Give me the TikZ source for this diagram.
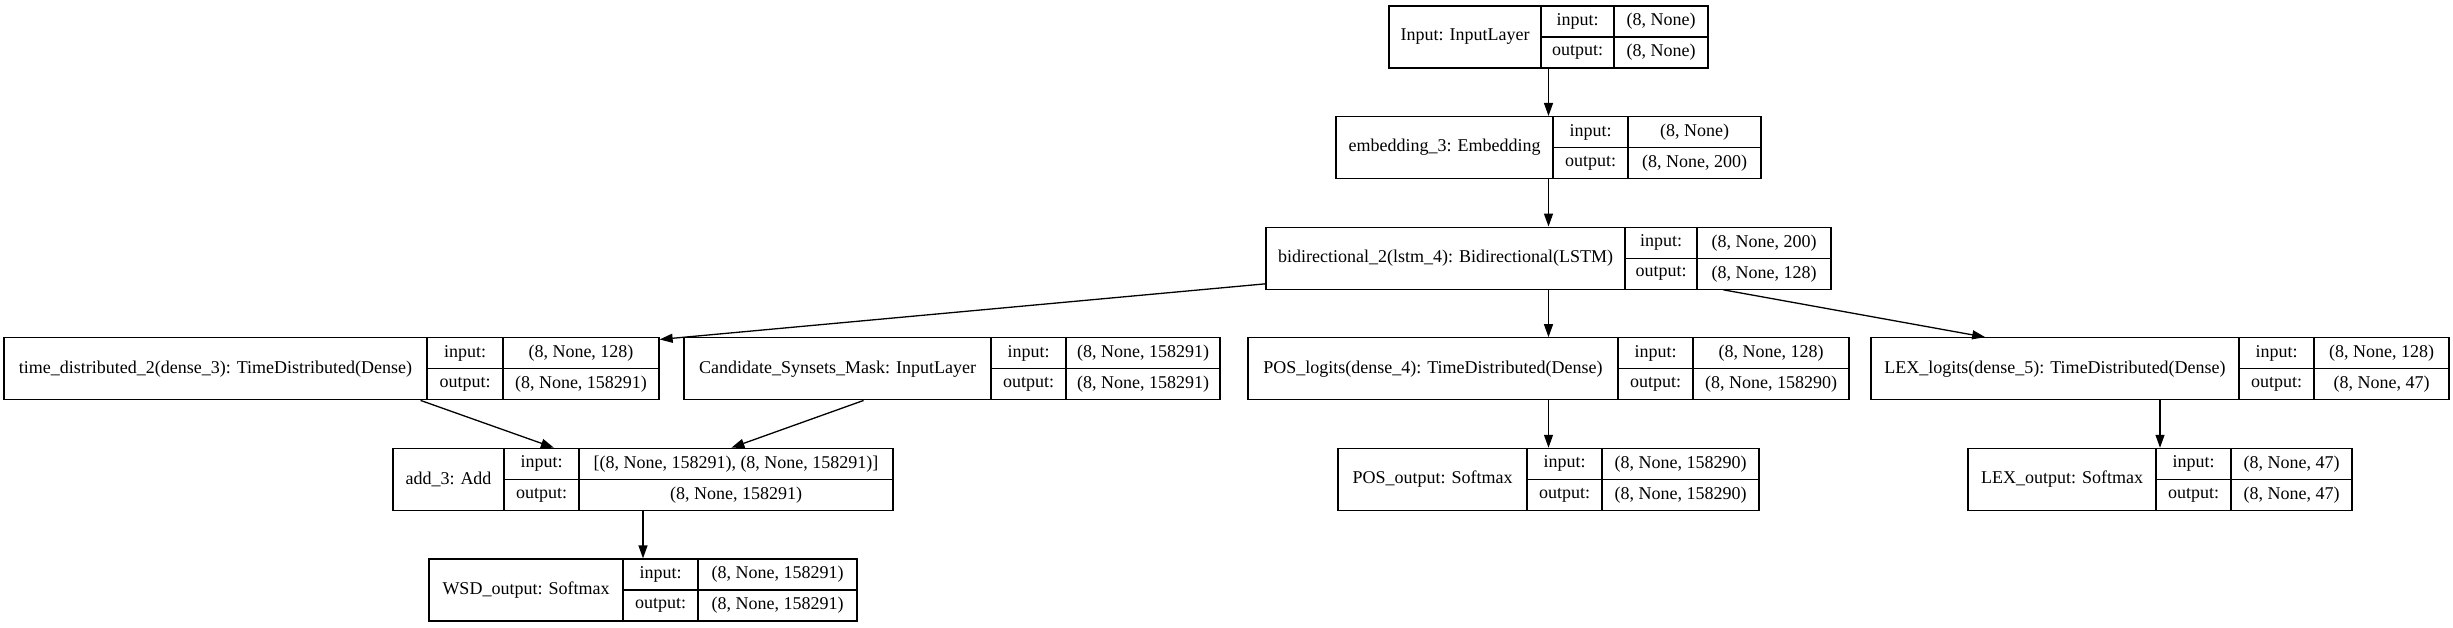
\documentclass[tikz,border=0pt]{standalone}
\usepackage{fontspec}
\setmainfont{Liberation Serif}
\usetikzlibrary{fit,arrows.meta}
\tikzset{
  recbox/.style={draw=black, line width=1.3pt, inner sep=0pt},
  recline/.style={draw=black, line width=1.3pt},
  rectext/.style={inner sep=0pt, font=\fontsize{18}{20}\selectfont, text=black},
  edge/.style={draw=black, line width=1.3pt, -{Triangle[length=13pt,width=9pt]}}
}
% name, left, d1, d2, right, top, label, in, out
\newcommand\rec[9]{%
  \node[recbox, fit={(#2,#6) (#5,#6+62)}] (#1) {};
  \draw[recline] (#3,#6) -- (#3,#6+62);
  \draw[recline] (#4,#6) -- (#4,#6+62);
  \draw[recline] (#3,#6+31) -- (#5,#6+31);
  \node[rectext] (#1-l) at ({(#2+#3)/2},{#6+31}) {#7};
  \node[rectext] (#1-i) at ({(#3+#4)/2},{#6+15.5}) {input:};
  \node[rectext] (#1-o) at ({(#3+#4)/2},{#6+46.5}) {output:};
  \node[rectext] (#1-vi) at ({(#4+#5)/2},{#6+15.5}) {#8};
  \node[rectext] (#1-vo) at ({(#4+#5)/2},{#6+46.5}) {#9};
}
\begin{document}
\begin{tikzpicture}[x=1pt,y=-1pt]
\fill[white] (0,0) rectangle (2453,627);
\rec{inp}{1389}{1541}{1614}{1708}{6}{Input: InputLayer}{(8, None)}{(8, None)}
\rec{emb}{1336}{1553}{1628}{1761}{116.6}{embedding\_3: Embedding}{(8, None)}{(8, None, 200)}
\rec{bid}{1266}{1625}{1697}{1831}{227.2}{bidirectional\_2(lstm\_4): Bidirectional(LSTM)}{(8, None, 200)}{(8, None, 128)}
\rec{td}{4}{427}{503}{659}{337.8}{time\_distributed\_2(dense\_3): TimeDistributed(Dense)}{(8, None, 128)}{(8, None, 158291)}
\rec{cand}{684}{991}{1066}{1220}{337.8}{Candidate\_Synsets\_Mask: InputLayer}{(8, None, 158291)}{(8, None, 158291)}
\rec{posl}{1248}{1618}{1693}{1849}{337.8}{POS\_logits(dense\_4): TimeDistributed(Dense)}{(8, None, 128)}{(8, None, 158290)}
\rec{lexl}{1871}{2239}{2314}{2449}{337.8}{LEX\_logits(dense\_5): TimeDistributed(Dense)}{(8, None, 128)}{(8, None, 47)}
\rec{add}{393}{504}{579}{893}{448.4}{add\_3: Add}{[(8, None, 158291), (8, None, 158291)]}{(8, None, 158291)}
\rec{poso}{1338}{1527}{1602}{1759}{448.4}{POS\_output: Softmax}{(8, None, 158290)}{(8, None, 158290)}
\rec{lexo}{1968}{2156}{2231}{2352}{448.4}{LEX\_output: Softmax}{(8, None, 47)}{(8, None, 47)}
\rec{wsd}{429}{623}{698}{857}{559}{WSD\_output: Softmax}{(8, None, 158291)}{(8, None, 158291)}
\draw[edge] (inp) -- (emb);
\draw[edge] (emb) -- (bid);
\draw[edge] (bid) -- (td);
\draw[edge] (bid) -- (posl);
\draw[edge] (bid) -- (lexl);
\draw[edge] (td) -- (add);
\draw[edge] (cand) -- (add);
\draw[edge] (add) -- (wsd);
\draw[edge] (posl) -- (poso);
\draw[edge] (lexl) -- (lexo);
\end{tikzpicture}
\end{document}
